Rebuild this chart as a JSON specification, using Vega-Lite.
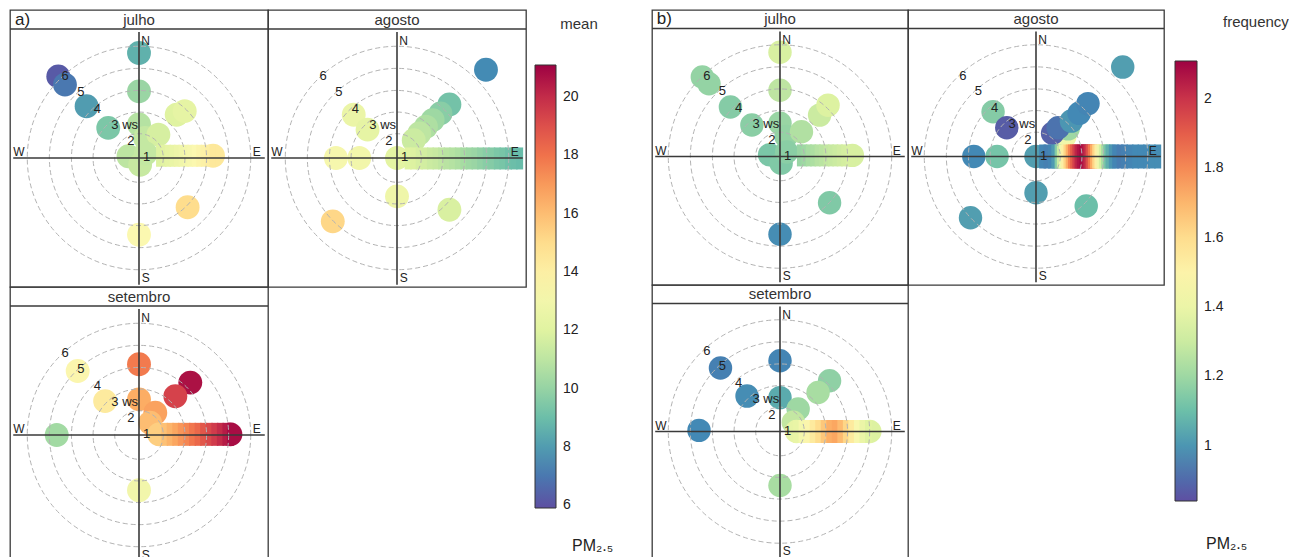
{
"$schema": "https://vega.github.io/schema/vega-lite/v6.json",
"padding": {"left": 8, "top": 9, "right": 0, "bottom": 0},
"background": "white",
"config": {"font": "Liberation Sans", "view": {"stroke": "#3a3a3a", "strokeWidth": 1.3}},
"datasets": {
"rings": [{"x":0,"y":0,"r":1.09},{"x":0,"y":0,"r":2.06},{"x":0,"y":0,"r":3.03},{"x":0,"y":0,"r":4.02},{"x":0,"y":0,"r":5.01}],
"lines": [{"x":-5.64,"y":0,"x2":5.64,"y2":0},{"x":0,"y":5.65,"x2":0,"y2":-5.68},{"x":-5.785,"y":5.785,"x2":5.785,"y2":5.785}],
"compass": [{"t":"N","x":0.3,"y":5.26},{"t":"E","x":5.28,"y":0.27},{"t":"S","x":0.3,"y":-5.38},{"t":"W","x":-5.38,"y":0.27}],
"ringlab": [{"t":"1","x":0.34,"y":0.03},{"t":"2","x":-0.37,"y":0.75},{"t":"3 ws","x":-0.64,"y":1.47},{"t":"4","x":-1.87,"y":2.2},{"t":"5","x":-2.61,"y":2.97},{"t":"6","x":-3.31,"y":3.66}],
"pts": [
{"g":"A","m":"jul","k":"p","x":0,"y":4.71,"v":8.6},
{"g":"A","m":"jul","k":"p","x":0,"y":2.99,"v":10.1},
{"g":"A","m":"jul","k":"p","x":-3.62,"y":3.66,"v":6.2},
{"g":"A","m":"jul","k":"p","x":-3.32,"y":3.29,"v":7.0},
{"g":"A","m":"jul","k":"p","x":-2.35,"y":2.32,"v":8.0},
{"g":"A","m":"jul","k":"p","x":-1.38,"y":1.35,"v":9.4},
{"g":"A","m":"jul","k":"p","x":1.69,"y":1.94,"v":12.0},
{"g":"A","m":"jul","k":"p","x":2.05,"y":2.1,"v":12.3},
{"g":"A","m":"jul","k":"p","x":0,"y":1.5,"v":10.8},
{"g":"A","m":"jul","k":"p","x":0.27,"y":0.9,"v":11.2},
{"g":"A","m":"jul","k":"p","x":0.87,"y":1.05,"v":11.7},
{"g":"A","m":"jul","k":"p","x":-0.47,"y":0.08,"v":11.0},
{"g":"A","m":"jul","k":"p","x":0.05,"y":-0.3,"v":11.3},
{"g":"A","m":"jul","k":"p","x":0.3,"y":0.2,"v":11.2},
{"g":"A","m":"jul","k":"p","x":3.32,"y":0.1,"v":14.4},
{"g":"A","m":"jul","k":"p","x":2.18,"y":-2.21,"v":15.0},
{"g":"A","m":"jul","k":"p","x":0,"y":-3.44,"v":13.5},
{"g":"A","m":"jul","k":"b","x":0.9,"y":0.1,"v":11.9},
{"g":"A","m":"jul","k":"b","x":1.1,"y":0.1,"v":12.1},
{"g":"A","m":"jul","k":"b","x":1.3,"y":0.1,"v":12.3},
{"g":"A","m":"jul","k":"b","x":1.5,"y":0.1,"v":12.5},
{"g":"A","m":"jul","k":"b","x":1.7,"y":0.1,"v":12.7},
{"g":"A","m":"jul","k":"b","x":1.9,"y":0.1,"v":12.9},
{"g":"A","m":"jul","k":"b","x":2.1,"y":0.1,"v":13.1},
{"g":"A","m":"jul","k":"b","x":2.3,"y":0.1,"v":13.3},
{"g":"A","m":"jul","k":"b","x":2.5,"y":0.1,"v":13.5},
{"g":"A","m":"jul","k":"b","x":2.7,"y":0.1,"v":13.7},
{"g":"A","m":"jul","k":"b","x":2.9,"y":0.1,"v":13.9},
{"g":"A","m":"jul","k":"b","x":3.1,"y":0.1,"v":14.1},
{"g":"A","m":"jul","k":"b","x":3.3,"y":0.1,"v":14.4},
{"g":"A","m":"ago","k":"p","x":3.99,"y":3.96,"v":7.5},
{"g":"A","m":"ago","k":"p","x":2.35,"y":2.4,"v":9.2},
{"g":"A","m":"ago","k":"p","x":1.95,"y":2.0,"v":9.7},
{"g":"A","m":"ago","k":"p","x":1.6,"y":1.7,"v":10.2},
{"g":"A","m":"ago","k":"p","x":1.3,"y":1.4,"v":10.6},
{"g":"A","m":"ago","k":"p","x":1.0,"y":1.1,"v":11.0},
{"g":"A","m":"ago","k":"p","x":0.75,"y":0.8,"v":11.4},
{"g":"A","m":"ago","k":"p","x":-1.94,"y":1.94,"v":12.6},
{"g":"A","m":"ago","k":"p","x":-1.32,"y":1.27,"v":12.3},
{"g":"A","m":"ago","k":"p","x":-2.74,"y":0,"v":13.2},
{"g":"A","m":"ago","k":"p","x":-1.69,"y":0,"v":13.0},
{"g":"A","m":"ago","k":"p","x":0,"y":0,"v":12.2},
{"g":"A","m":"ago","k":"p","x":0,"y":-1.72,"v":12.8},
{"g":"A","m":"ago","k":"p","x":2.35,"y":-2.32,"v":11.8},
{"g":"A","m":"ago","k":"p","x":-2.88,"y":-2.84,"v":15.2},
{"g":"A","m":"ago","k":"b","x":0.5,"y":-0.02,"v":12.0},
{"g":"A","m":"ago","k":"b","x":0.75,"y":-0.02,"v":11.9},
{"g":"A","m":"ago","k":"b","x":1.0,"y":-0.02,"v":11.7},
{"g":"A","m":"ago","k":"b","x":1.25,"y":-0.02,"v":11.6},
{"g":"A","m":"ago","k":"b","x":1.5,"y":-0.02,"v":11.4},
{"g":"A","m":"ago","k":"b","x":1.75,"y":-0.02,"v":11.3},
{"g":"A","m":"ago","k":"b","x":2.0,"y":-0.02,"v":11.1},
{"g":"A","m":"ago","k":"b","x":2.25,"y":-0.02,"v":10.9},
{"g":"A","m":"ago","k":"b","x":2.5,"y":-0.02,"v":10.8},
{"g":"A","m":"ago","k":"b","x":2.75,"y":-0.02,"v":10.6},
{"g":"A","m":"ago","k":"b","x":3.0,"y":-0.02,"v":10.4},
{"g":"A","m":"ago","k":"b","x":3.25,"y":-0.02,"v":10.2},
{"g":"A","m":"ago","k":"b","x":3.5,"y":-0.02,"v":10.1},
{"g":"A","m":"ago","k":"b","x":3.75,"y":-0.02,"v":9.9},
{"g":"A","m":"ago","k":"b","x":4.0,"y":-0.02,"v":9.7},
{"g":"A","m":"ago","k":"b","x":4.25,"y":-0.02,"v":9.6},
{"g":"A","m":"ago","k":"b","x":4.5,"y":-0.02,"v":9.4},
{"g":"A","m":"ago","k":"b","x":4.75,"y":-0.02,"v":9.3},
{"g":"A","m":"ago","k":"b","x":5.0,"y":-0.02,"v":9.1},
{"g":"A","m":"ago","k":"b","x":5.25,"y":-0.02,"v":9.0},
{"g":"A","m":"ago","k":"b","x":5.5,"y":-0.02,"v":8.9},
{"g":"A","m":"set","k":"p","x":0,"y":3.17,"v":17.8},
{"g":"A","m":"set","k":"p","x":0,"y":1.6,"v":16.5},
{"g":"A","m":"set","k":"p","x":0.73,"y":1.0,"v":16.8},
{"g":"A","m":"set","k":"p","x":0.5,"y":0.55,"v":16.0},
{"g":"A","m":"set","k":"p","x":2.3,"y":2.35,"v":20.7},
{"g":"A","m":"set","k":"p","x":1.63,"y":1.74,"v":19.4},
{"g":"A","m":"set","k":"p","x":-2.75,"y":2.87,"v":13.6},
{"g":"A","m":"set","k":"p","x":-1.52,"y":1.52,"v":14.3},
{"g":"A","m":"set","k":"p","x":-3.69,"y":0,"v":10.3},
{"g":"A","m":"set","k":"p","x":0,"y":-2.48,"v":13.0},
{"g":"A","m":"set","k":"p","x":0.9,"y":0.03,"v":15.5},
{"g":"A","m":"set","k":"p","x":4.1,"y":0.03,"v":20.8},
{"g":"A","m":"set","k":"b","x":0.9,"y":0.03,"v":15.5},
{"g":"A","m":"set","k":"b","x":1.15,"y":0.03,"v":15.9},
{"g":"A","m":"set","k":"b","x":1.4,"y":0.03,"v":16.3},
{"g":"A","m":"set","k":"b","x":1.65,"y":0.03,"v":16.7},
{"g":"A","m":"set","k":"b","x":1.9,"y":0.03,"v":17.1},
{"g":"A","m":"set","k":"b","x":2.15,"y":0.03,"v":17.5},
{"g":"A","m":"set","k":"b","x":2.4,"y":0.03,"v":17.9},
{"g":"A","m":"set","k":"b","x":2.65,"y":0.03,"v":18.3},
{"g":"A","m":"set","k":"b","x":2.9,"y":0.03,"v":18.8},
{"g":"A","m":"set","k":"b","x":3.15,"y":0.03,"v":19.2},
{"g":"A","m":"set","k":"b","x":3.4,"y":0.03,"v":19.6},
{"g":"A","m":"set","k":"b","x":3.65,"y":0.03,"v":20.0},
{"g":"A","m":"set","k":"b","x":3.9,"y":0.03,"v":20.4},
{"g":"A","m":"set","k":"b","x":4.1,"y":0.03,"v":20.8},
{"g":"B","m":"jul","k":"p","x":0,"y":4.71,"v":1.33},
{"g":"B","m":"jul","k":"p","x":0,"y":2.99,"v":1.27},
{"g":"B","m":"jul","k":"p","x":-3.51,"y":3.59,"v":1.18},
{"g":"B","m":"jul","k":"p","x":-3.21,"y":3.29,"v":1.18},
{"g":"B","m":"jul","k":"p","x":-2.24,"y":2.24,"v":1.15},
{"g":"B","m":"jul","k":"p","x":-1.27,"y":1.42,"v":1.16},
{"g":"B","m":"jul","k":"p","x":1.79,"y":1.87,"v":1.30},
{"g":"B","m":"jul","k":"p","x":2.17,"y":2.32,"v":1.34},
{"g":"B","m":"jul","k":"p","x":0,"y":1.5,"v":1.19},
{"g":"B","m":"jul","k":"p","x":0.27,"y":0.9,"v":1.18},
{"g":"B","m":"jul","k":"p","x":0.97,"y":1.12,"v":1.24},
{"g":"B","m":"jul","k":"p","x":-0.47,"y":0.08,"v":1.13},
{"g":"B","m":"jul","k":"p","x":0.05,"y":-0.3,"v":1.14},
{"g":"B","m":"jul","k":"p","x":0.3,"y":0.2,"v":1.16},
{"g":"B","m":"jul","k":"p","x":3.27,"y":0.05,"v":1.33},
{"g":"B","m":"jul","k":"p","x":2.24,"y":-2.09,"v":1.14},
{"g":"B","m":"jul","k":"p","x":0,"y":-3.51,"v":0.98},
{"g":"B","m":"jul","k":"b","x":0.9,"y":0.05,"v":1.19},
{"g":"B","m":"jul","k":"b","x":1.1,"y":0.05,"v":1.2},
{"g":"B","m":"jul","k":"b","x":1.3,"y":0.05,"v":1.22},
{"g":"B","m":"jul","k":"b","x":1.5,"y":0.05,"v":1.23},
{"g":"B","m":"jul","k":"b","x":1.7,"y":0.05,"v":1.25},
{"g":"B","m":"jul","k":"b","x":1.9,"y":0.05,"v":1.26},
{"g":"B","m":"jul","k":"b","x":2.1,"y":0.05,"v":1.28},
{"g":"B","m":"jul","k":"b","x":2.3,"y":0.05,"v":1.29},
{"g":"B","m":"jul","k":"b","x":2.5,"y":0.05,"v":1.3},
{"g":"B","m":"jul","k":"b","x":2.7,"y":0.05,"v":1.31},
{"g":"B","m":"jul","k":"b","x":2.9,"y":0.05,"v":1.32},
{"g":"B","m":"jul","k":"b","x":3.1,"y":0.05,"v":1.33},
{"g":"B","m":"jul","k":"b","x":3.27,"y":0.05,"v":1.33},
{"g":"B","m":"ago","k":"p","x":3.92,"y":4.04,"v":1.02},
{"g":"B","m":"ago","k":"p","x":1.3,"y":0.9,"v":1.42},
{"g":"B","m":"ago","k":"p","x":1.45,"y":1.25,"v":1.2},
{"g":"B","m":"ago","k":"p","x":0.75,"y":1.05,"v":0.88},
{"g":"B","m":"ago","k":"p","x":1.0,"y":1.3,"v":0.92},
{"g":"B","m":"ago","k":"p","x":1.6,"y":1.6,"v":1.0},
{"g":"B","m":"ago","k":"p","x":1.95,"y":1.95,"v":0.97},
{"g":"B","m":"ago","k":"p","x":2.35,"y":2.39,"v":0.96},
{"g":"B","m":"ago","k":"p","x":-1.94,"y":2.02,"v":1.15},
{"g":"B","m":"ago","k":"p","x":-1.32,"y":1.3,"v":0.87},
{"g":"B","m":"ago","k":"p","x":-2.81,"y":0,"v":0.97},
{"g":"B","m":"ago","k":"p","x":-1.76,"y":0,"v":1.12},
{"g":"B","m":"ago","k":"p","x":0,"y":0,"v":1.02},
{"g":"B","m":"ago","k":"p","x":0,"y":-1.64,"v":1.02},
{"g":"B","m":"ago","k":"p","x":2.27,"y":-2.24,"v":1.1},
{"g":"B","m":"ago","k":"p","x":-2.96,"y":-2.77,"v":1.02},
{"g":"B","m":"ago","k":"b","x":0.3,"y":0,"v":0.96},
{"g":"B","m":"ago","k":"b","x":0.5,"y":0,"v":0.95},
{"g":"B","m":"ago","k":"b","x":0.7,"y":0,"v":0.96},
{"g":"B","m":"ago","k":"b","x":0.85,"y":0,"v":1.01},
{"g":"B","m":"ago","k":"b","x":1.0,"y":0,"v":1.15},
{"g":"B","m":"ago","k":"b","x":1.1,"y":0,"v":1.3},
{"g":"B","m":"ago","k":"b","x":1.2,"y":0,"v":1.42},
{"g":"B","m":"ago","k":"b","x":1.3,"y":0,"v":1.52},
{"g":"B","m":"ago","k":"b","x":1.4,"y":0,"v":1.62},
{"g":"B","m":"ago","k":"b","x":1.5,"y":0,"v":1.72},
{"g":"B","m":"ago","k":"b","x":1.6,"y":0,"v":1.82},
{"g":"B","m":"ago","k":"b","x":1.7,"y":0,"v":1.9},
{"g":"B","m":"ago","k":"b","x":1.8,"y":0,"v":1.97},
{"g":"B","m":"ago","k":"b","x":1.9,"y":0,"v":2.03},
{"g":"B","m":"ago","k":"b","x":2.0,"y":0,"v":2.07},
{"g":"B","m":"ago","k":"b","x":2.1,"y":0,"v":2.09},
{"g":"B","m":"ago","k":"b","x":2.2,"y":0,"v":2.07},
{"g":"B","m":"ago","k":"b","x":2.3,"y":0,"v":2.02},
{"g":"B","m":"ago","k":"b","x":2.4,"y":0,"v":1.94},
{"g":"B","m":"ago","k":"b","x":2.5,"y":0,"v":1.84},
{"g":"B","m":"ago","k":"b","x":2.6,"y":0,"v":1.73},
{"g":"B","m":"ago","k":"b","x":2.7,"y":0,"v":1.62},
{"g":"B","m":"ago","k":"b","x":2.8,"y":0,"v":1.52},
{"g":"B","m":"ago","k":"b","x":2.9,"y":0,"v":1.42},
{"g":"B","m":"ago","k":"b","x":3.0,"y":0,"v":1.32},
{"g":"B","m":"ago","k":"b","x":3.1,"y":0,"v":1.22},
{"g":"B","m":"ago","k":"b","x":3.2,"y":0,"v":1.13},
{"g":"B","m":"ago","k":"b","x":3.3,"y":0,"v":1.06},
{"g":"B","m":"ago","k":"b","x":3.45,"y":0,"v":1.0},
{"g":"B","m":"ago","k":"b","x":3.6,"y":0,"v":0.96},
{"g":"B","m":"ago","k":"b","x":3.8,"y":0,"v":0.94},
{"g":"B","m":"ago","k":"b","x":4.0,"y":0,"v":0.95},
{"g":"B","m":"ago","k":"b","x":4.25,"y":0,"v":0.96},
{"g":"B","m":"ago","k":"b","x":4.5,"y":0,"v":0.97},
{"g":"B","m":"ago","k":"b","x":4.75,"y":0,"v":0.97},
{"g":"B","m":"ago","k":"b","x":5.0,"y":0,"v":0.97},
{"g":"B","m":"ago","k":"b","x":5.25,"y":0,"v":0.98},
{"g":"B","m":"ago","k":"b","x":5.5,"y":0,"v":0.98},
{"g":"B","m":"set","k":"p","x":0,"y":3.2,"v":0.96},
{"g":"B","m":"set","k":"p","x":0,"y":1.53,"v":1.05},
{"g":"B","m":"set","k":"p","x":0.82,"y":1.02,"v":1.2},
{"g":"B","m":"set","k":"p","x":0.6,"y":0.42,"v":1.28},
{"g":"B","m":"set","k":"p","x":2.24,"y":2.29,"v":1.17},
{"g":"B","m":"set","k":"p","x":1.72,"y":1.76,"v":1.22},
{"g":"B","m":"set","k":"p","x":-2.69,"y":2.87,"v":0.95},
{"g":"B","m":"set","k":"p","x":-1.49,"y":1.6,"v":0.98},
{"g":"B","m":"set","k":"p","x":-3.66,"y":0.05,"v":0.97},
{"g":"B","m":"set","k":"p","x":0,"y":-2.44,"v":1.22},
{"g":"B","m":"set","k":"p","x":0.75,"y":0,"v":1.38},
{"g":"B","m":"set","k":"p","x":4.06,"y":0,"v":1.34},
{"g":"B","m":"set","k":"b","x":0.75,"y":0,"v":1.39},
{"g":"B","m":"set","k":"b","x":1.0,"y":0,"v":1.44},
{"g":"B","m":"set","k":"b","x":1.25,"y":0,"v":1.49},
{"g":"B","m":"set","k":"b","x":1.5,"y":0,"v":1.54},
{"g":"B","m":"set","k":"b","x":1.75,"y":0,"v":1.6},
{"g":"B","m":"set","k":"b","x":2.0,"y":0,"v":1.66},
{"g":"B","m":"set","k":"b","x":2.25,"y":0,"v":1.72},
{"g":"B","m":"set","k":"b","x":2.5,"y":0,"v":1.74},
{"g":"B","m":"set","k":"b","x":2.75,"y":0,"v":1.69},
{"g":"B","m":"set","k":"b","x":3.0,"y":0,"v":1.62},
{"g":"B","m":"set","k":"b","x":3.25,"y":0,"v":1.54},
{"g":"B","m":"set","k":"b","x":3.5,"y":0,"v":1.46},
{"g":"B","m":"set","k":"b","x":3.75,"y":0,"v":1.4},
{"g":"B","m":"set","k":"b","x":4.0,"y":0,"v":1.35}
]
},
"resolve": {"scale": {"color": "independent"}, "legend": {"color": "independent"}},
"spacing": 36,
"hconcat": [
{"columns": 2, "spacing": 0, "bounds": "flush", "concat": [
  {"width": 258, "height": 277,
   "encoding": {"x": {"field": "x", "type": "quantitative", "scale": {"domain": [-5.785, 5.785], "nice": false, "zero": false}, "axis": null},
                "y": {"field": "y", "type": "quantitative", "scale": {"domain": [-5.785, 6.637], "nice": false, "zero": false}, "axis": null}},
   "layer": [
    {"data": {"name": "pts"}, "transform": [{"filter": "datum.g=='A' && datum.m=='jul' && datum.k=='p'"}],
     "mark": {"type": "point", "shape": "circle", "filled": true, "opacity": 1, "size": 570, "strokeWidth": 0},
     "encoding": {"color": {"field": "v", "type": "quantitative", "scale": {"domain": [5.9, 21.1], "scheme": "spectral", "reverse": true},
       "legend": {"title": "mean", "orient": "none", "legendX": 525, "legendY": 7, "direction": "vertical", "gradientLength": 443, "gradientThickness": 21, "values": [6,8,10,12,14,16,18,20], "titleFontSize": 15, "titleFontWeight": "normal", "titleColor": "#333", "titleAnchor": "end", "titleAlign": "center", "titlePadding": 33, "labelFontSize": 14, "labelColor": "#222", "labelOffset": 7, "gradientStrokeColor": "#333", "gradientStrokeWidth": 1}}}},
    {"data": {"name": "pts"}, "transform": [{"filter": "datum.g=='A' && datum.m=='jul' && datum.k=='b'"}],
     "mark": {"type": "tick", "orient": "vertical", "thickness": 6, "size": 22, "opacity": 1},
     "encoding": {"color": {"field": "v", "type": "quantitative", "scale": {"domain": [5.9, 21.1], "scheme": "spectral", "reverse": true}}}},
    {"data": {"name": "rings"}, "mark": {"type": "point", "shape": "circle", "filled": false, "color": "#b3b3b3", "strokeWidth": 1, "strokeDash": [5, 3], "opacity": 1},
     "encoding": {"size": {"field": "r", "type": "quantitative", "scale": {"type": "pow", "exponent": 2, "domain": [0, 5], "range": [0, 49729]}, "legend": null}}},
    {"data": {"name": "lines"}, "mark": {"type": "rule", "color": "#3a3a3a", "strokeWidth": 1.6}, "encoding": {"x2": {"field": "x2"}, "y2": {"field": "y2"}}},
    {"data": {"name": "compass"}, "mark": {"type": "text", "fontSize": 12, "color": "#222"}, "encoding": {"text": {"field": "t"}}},
    {"data": {"name": "ringlab"}, "mark": {"type": "text", "fontSize": 13, "color": "#222"}, "encoding": {"text": {"field": "t"}}},
    {"data": {"values": [{"x": 0, "y": 6.2, "t": "julho"}]}, "mark": {"type": "text", "fontSize": 15, "color": "#333"}, "encoding": {"text": {"field": "t"}}},
    {"data": {"values": [{"x": -5.56, "y": 6.2, "t": "a)"}]}, "mark": {"type": "text", "fontSize": 17, "align": "left", "color": "#222"}, "encoding": {"text": {"field": "t"}}}
   ]},
  {"width": 258, "height": 277,
   "encoding": {"x": {"field": "x", "type": "quantitative", "scale": {"domain": [-5.785, 5.785], "nice": false, "zero": false}, "axis": null},
                "y": {"field": "y", "type": "quantitative", "scale": {"domain": [-5.785, 6.637], "nice": false, "zero": false}, "axis": null}},
   "layer": [
    {"data": {"name": "pts"}, "transform": [{"filter": "datum.g=='A' && datum.m=='ago' && datum.k=='p'"}],
     "mark": {"type": "point", "shape": "circle", "filled": true, "opacity": 1, "size": 570, "strokeWidth": 0},
     "encoding": {"color": {"field": "v", "type": "quantitative", "scale": {"domain": [5.9, 21.1], "scheme": "spectral", "reverse": true}}}},
    {"data": {"name": "pts"}, "transform": [{"filter": "datum.g=='A' && datum.m=='ago' && datum.k=='b'"}],
     "mark": {"type": "tick", "orient": "vertical", "thickness": 7, "size": 22, "opacity": 1},
     "encoding": {"color": {"field": "v", "type": "quantitative", "scale": {"domain": [5.9, 21.1], "scheme": "spectral", "reverse": true}}}},
    {"data": {"name": "rings"}, "mark": {"type": "point", "shape": "circle", "filled": false, "color": "#b3b3b3", "strokeWidth": 1, "strokeDash": [5, 3], "opacity": 1},
     "encoding": {"size": {"field": "r", "type": "quantitative", "scale": {"type": "pow", "exponent": 2, "domain": [0, 5], "range": [0, 49729]}, "legend": null}}},
    {"data": {"name": "lines"}, "mark": {"type": "rule", "color": "#3a3a3a", "strokeWidth": 1.6}, "encoding": {"x2": {"field": "x2"}, "y2": {"field": "y2"}}},
    {"data": {"name": "compass"}, "mark": {"type": "text", "fontSize": 12, "color": "#222"}, "encoding": {"text": {"field": "t"}}},
    {"data": {"name": "ringlab"}, "mark": {"type": "text", "fontSize": 13, "color": "#222"}, "encoding": {"text": {"field": "t"}}},
    {"data": {"values": [{"x": 0, "y": 6.2, "t": "agosto"}]}, "mark": {"type": "text", "fontSize": 15, "color": "#333"}, "encoding": {"text": {"field": "t"}}}
   ]},
 {"width": 258, "height": 277,
  "title": {"text": "PM₂.₅", "orient": "bottom", "anchor": "start", "frame": "group", "dx": 562, "dy": -30, "fontSize": 16, "fontWeight": "normal", "color": "#222"},
  "encoding": {"x": {"field": "x", "type": "quantitative", "scale": {"domain": [-5.785, 5.785], "nice": false, "zero": false}, "axis": null},
               "y": {"field": "y", "type": "quantitative", "scale": {"domain": [-5.785, 6.637], "nice": false, "zero": false}, "axis": null}},
  "layer": [
   {"data": {"name": "pts"}, "transform": [{"filter": "datum.g=='A' && datum.m=='set' && datum.k=='p'"}],
    "mark": {"type": "point", "shape": "circle", "filled": true, "opacity": 1, "size": 570, "strokeWidth": 0},
    "encoding": {"color": {"field": "v", "type": "quantitative", "scale": {"domain": [5.9, 21.1], "scheme": "spectral", "reverse": true}}}},
   {"data": {"name": "pts"}, "transform": [{"filter": "datum.g=='A' && datum.m=='set' && datum.k=='b'"}],
    "mark": {"type": "tick", "orient": "vertical", "thickness": 7, "size": 23, "opacity": 1},
    "encoding": {"color": {"field": "v", "type": "quantitative", "scale": {"domain": [5.9, 21.1], "scheme": "spectral", "reverse": true}}}},
   {"data": {"name": "rings"}, "mark": {"type": "point", "shape": "circle", "filled": false, "color": "#b3b3b3", "strokeWidth": 1, "strokeDash": [5, 3], "opacity": 1},
    "encoding": {"size": {"field": "r", "type": "quantitative", "scale": {"type": "pow", "exponent": 2, "domain": [0, 5], "range": [0, 49729]}, "legend": null}}},
   {"data": {"name": "lines"}, "mark": {"type": "rule", "color": "#3a3a3a", "strokeWidth": 1.6}, "encoding": {"x2": {"field": "x2"}, "y2": {"field": "y2"}}},
   {"data": {"name": "compass"}, "mark": {"type": "text", "fontSize": 12, "color": "#222"}, "encoding": {"text": {"field": "t"}}},
   {"data": {"name": "ringlab"}, "mark": {"type": "text", "fontSize": 13, "color": "#222"}, "encoding": {"text": {"field": "t"}}},
   {"data": {"values": [{"x": 0, "y": 6.2, "t": "setembro"}]}, "mark": {"type": "text", "fontSize": 15, "color": "#333"}, "encoding": {"text": {"field": "t"}}}
  ]}
]},
{"columns": 2, "spacing": 0, "bounds": "flush", "concat": [
  {"width": 256, "height": 275,
   "encoding": {"x": {"field": "x", "type": "quantitative", "scale": {"domain": [-5.785, 5.785], "nice": false, "zero": false}, "axis": null},
                "y": {"field": "y", "type": "quantitative", "scale": {"domain": [-5.807, 6.62], "nice": false, "zero": false}, "axis": null}},
   "layer": [
    {"data": {"name": "pts"}, "transform": [{"filter": "datum.g=='B' && datum.m=='jul' && datum.k=='p'"}],
     "mark": {"type": "point", "shape": "circle", "filled": true, "opacity": 1, "size": 550, "strokeWidth": 0},
     "encoding": {"color": {"field": "v", "type": "quantitative", "scale": {"domain": [0.84, 2.11], "scheme": "spectral", "reverse": true},
       "legend": {"title": "frequency", "orient": "none", "legendX": 523, "legendY": 5, "direction": "vertical", "gradientLength": 440, "gradientThickness": 22, "values": [1, 1.2, 1.4, 1.6, 1.8, 2], "format": "~g", "titleFontSize": 15, "titleFontWeight": "normal", "titleColor": "#333", "titleAnchor": "end", "titleAlign": "left", "titlePadding": 31, "labelFontSize": 14, "labelColor": "#222", "labelOffset": 7, "gradientStrokeColor": "#333", "gradientStrokeWidth": 1}}}},
    {"data": {"name": "pts"}, "transform": [{"filter": "datum.g=='B' && datum.m=='jul' && datum.k=='b'"}],
     "mark": {"type": "tick", "orient": "vertical", "thickness": 6, "size": 22, "opacity": 1},
     "encoding": {"color": {"field": "v", "type": "quantitative", "scale": {"domain": [0.84, 2.11], "scheme": "spectral", "reverse": true}}}},
    {"data": {"name": "rings"}, "mark": {"type": "point", "shape": "circle", "filled": false, "color": "#b3b3b3", "strokeWidth": 1, "strokeDash": [5, 3], "opacity": 1},
     "encoding": {"size": {"field": "r", "type": "quantitative", "scale": {"type": "pow", "exponent": 2, "domain": [0, 5], "range": [0, 49729]}, "legend": null}}},
    {"data": {"name": "lines"}, "mark": {"type": "rule", "color": "#3a3a3a", "strokeWidth": 1.6}, "encoding": {"x2": {"field": "x2"}, "y2": {"field": "y2"}}},
    {"data": {"name": "compass"}, "mark": {"type": "text", "fontSize": 12, "color": "#222"}, "encoding": {"text": {"field": "t"}}},
    {"data": {"name": "ringlab"}, "mark": {"type": "text", "fontSize": 13, "color": "#222"}, "encoding": {"text": {"field": "t"}}},
    {"data": {"values": [{"x": 0, "y": 6.2, "t": "julho"}]}, "mark": {"type": "text", "fontSize": 15, "color": "#333"}, "encoding": {"text": {"field": "t"}}},
    {"data": {"values": [{"x": -5.57, "y": 6.2, "t": "b)"}]}, "mark": {"type": "text", "fontSize": 17, "align": "left", "color": "#222"}, "encoding": {"text": {"field": "t"}}}
   ]},
  {"width": 256, "height": 275,
   "encoding": {"x": {"field": "x", "type": "quantitative", "scale": {"domain": [-5.785, 5.785], "nice": false, "zero": false}, "axis": null},
                "y": {"field": "y", "type": "quantitative", "scale": {"domain": [-5.807, 6.62], "nice": false, "zero": false}, "axis": null}},
   "layer": [
    {"data": {"name": "pts"}, "transform": [{"filter": "datum.g=='B' && datum.m=='ago' && datum.k=='p'"}],
     "mark": {"type": "point", "shape": "circle", "filled": true, "opacity": 1, "size": 550, "strokeWidth": 0},
     "encoding": {"color": {"field": "v", "type": "quantitative", "scale": {"domain": [0.84, 2.11], "scheme": "spectral", "reverse": true}}}},
    {"data": {"name": "pts"}, "transform": [{"filter": "datum.g=='B' && datum.m=='ago' && datum.k=='b'"}],
     "mark": {"type": "tick", "orient": "vertical", "thickness": 7, "size": 24, "opacity": 1},
     "encoding": {"color": {"field": "v", "type": "quantitative", "scale": {"domain": [0.84, 2.11], "scheme": "spectral", "reverse": true}}}},
    {"data": {"name": "rings"}, "mark": {"type": "point", "shape": "circle", "filled": false, "color": "#b3b3b3", "strokeWidth": 1, "strokeDash": [5, 3], "opacity": 1},
     "encoding": {"size": {"field": "r", "type": "quantitative", "scale": {"type": "pow", "exponent": 2, "domain": [0, 5], "range": [0, 49729]}, "legend": null}}},
    {"data": {"name": "lines"}, "mark": {"type": "rule", "color": "#3a3a3a", "strokeWidth": 1.6}, "encoding": {"x2": {"field": "x2"}, "y2": {"field": "y2"}}},
    {"data": {"name": "compass"}, "mark": {"type": "text", "fontSize": 12, "color": "#222"}, "encoding": {"text": {"field": "t"}}},
    {"data": {"name": "ringlab"}, "mark": {"type": "text", "fontSize": 13, "color": "#222"}, "encoding": {"text": {"field": "t"}}},
    {"data": {"values": [{"x": 0, "y": 6.2, "t": "agosto"}]}, "mark": {"type": "text", "fontSize": 15, "color": "#333"}, "encoding": {"text": {"field": "t"}}}
   ]},
 {"width": 256, "height": 275,
  "title": {"text": "PM₂.₅", "orient": "bottom", "anchor": "start", "frame": "group", "dx": 554, "dy": -28, "fontSize": 16, "fontWeight": "normal", "color": "#222"},
  "encoding": {"x": {"field": "x", "type": "quantitative", "scale": {"domain": [-5.785, 5.785], "nice": false, "zero": false}, "axis": null},
               "y": {"field": "y", "type": "quantitative", "scale": {"domain": [-5.807, 6.62], "nice": false, "zero": false}, "axis": null}},
  "layer": [
   {"data": {"name": "pts"}, "transform": [{"filter": "datum.g=='B' && datum.m=='set' && datum.k=='p'"}],
    "mark": {"type": "point", "shape": "circle", "filled": true, "opacity": 1, "size": 550, "strokeWidth": 0},
    "encoding": {"color": {"field": "v", "type": "quantitative", "scale": {"domain": [0.84, 2.11], "scheme": "spectral", "reverse": true}}}},
   {"data": {"name": "pts"}, "transform": [{"filter": "datum.g=='B' && datum.m=='set' && datum.k=='b'"}],
    "mark": {"type": "tick", "orient": "vertical", "thickness": 7, "size": 23, "opacity": 1},
    "encoding": {"color": {"field": "v", "type": "quantitative", "scale": {"domain": [0.84, 2.11], "scheme": "spectral", "reverse": true}}}},
   {"data": {"name": "rings"}, "mark": {"type": "point", "shape": "circle", "filled": false, "color": "#b3b3b3", "strokeWidth": 1, "strokeDash": [5, 3], "opacity": 1},
    "encoding": {"size": {"field": "r", "type": "quantitative", "scale": {"type": "pow", "exponent": 2, "domain": [0, 5], "range": [0, 49729]}, "legend": null}}},
   {"data": {"name": "lines"}, "mark": {"type": "rule", "color": "#3a3a3a", "strokeWidth": 1.6}, "encoding": {"x2": {"field": "x2"}, "y2": {"field": "y2"}}},
   {"data": {"name": "compass"}, "mark": {"type": "text", "fontSize": 12, "color": "#222"}, "encoding": {"text": {"field": "t"}}},
   {"data": {"name": "ringlab"}, "mark": {"type": "text", "fontSize": 13, "color": "#222"}, "encoding": {"text": {"field": "t"}}},
   {"data": {"values": [{"x": 0, "y": 6.2, "t": "setembro"}]}, "mark": {"type": "text", "fontSize": 15, "color": "#333"}, "encoding": {"text": {"field": "t"}}}
  ]}
]}
]
}
